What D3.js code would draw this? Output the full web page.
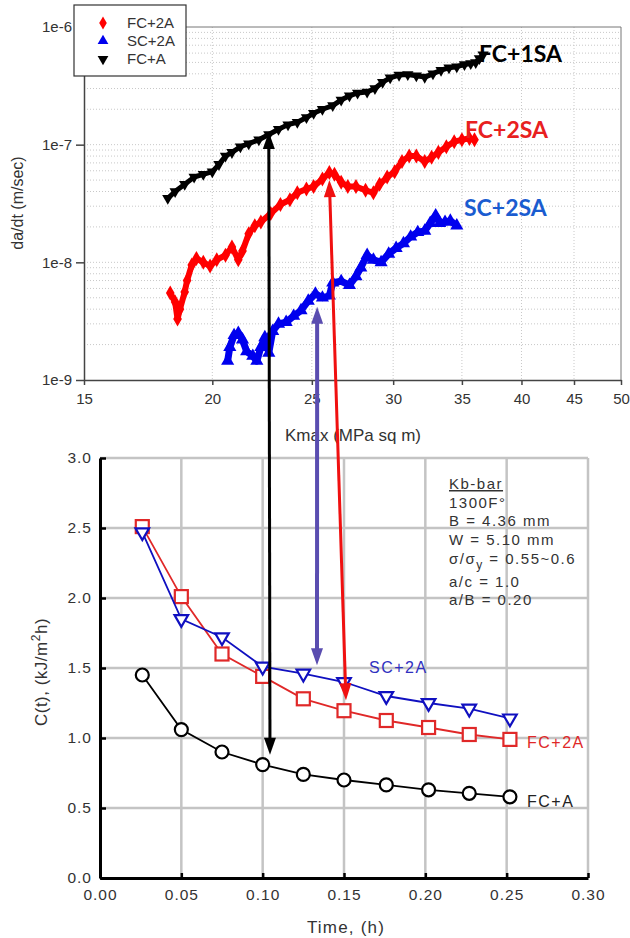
<!DOCTYPE html>
<html>
<head>
<meta charset="utf-8">
<script src="https://cdn.jsdelivr.net/npm/d3@7"></script>
<style>
    body { margin: 0; background: #fff; }
    svg text { font-family: 'Liberation Sans', Arial, sans-serif; }
</style>
</head>
<body>
<div id="container"></div>
<script>
// top chart: da/dt vs Kmax, [K, rate]
const kTicks = [15, 20, 25, 30, 35, 40, 45, 50];
const rateTicks = [1e-9, 1e-8, 1e-7, 1e-6];
const legendNames = ['FC+2A', 'SC+2A', 'FC+A'];

const topFCA = [
    [18.1, 3.5e-8], [18.4, 4.0e-8], [18.8, 4.6e-8], [19.2, 5.3e-8], [19.6, 5.6e-8], [20.0, 5.9e-8],
    [20.3, 6.8e-8], [20.6, 8.0e-8], [20.9, 8.6e-8], [21.3, 9.6e-8], [21.7, 1.02e-7], [22.2, 1.10e-7],
    [22.7, 1.22e-7], [23.2, 1.35e-7], [23.7, 1.48e-7], [24.2, 1.55e-7], [24.7, 1.70e-7], [25.1, 1.85e-7],
    [25.6, 2.0e-7], [26.2, 2.15e-7], [26.7, 2.4e-7], [27.2, 2.6e-7], [27.7, 2.75e-7], [28.3, 2.8e-7],
    [28.8, 3.0e-7], [29.3, 3.4e-7], [29.8, 3.7e-7], [30.4, 3.9e-7], [31.0, 3.95e-7], [31.6, 3.85e-7],
    [32.2, 3.75e-7], [32.8, 4.0e-7], [33.4, 4.3e-7], [34.0, 4.5e-7], [34.6, 4.6e-7], [35.2, 4.8e-7],
    [35.7, 4.9e-7], [36.1, 5.0e-7], [36.4, 5.4e-7], [36.7, 5.8e-7]
];
const topFC2A = [
    [18.2, 5.5e-9], [18.4, 4.6e-9], [18.5, 3.3e-9], [18.6, 4.0e-9], [18.8, 5.6e-9], [18.9, 7.0e-9],
    [19.1, 9.5e-9], [19.3, 1.08e-8], [19.6, 1.0e-8], [19.9, 9.3e-9], [20.2, 1.05e-8], [20.6, 1.15e-8],
    [20.9, 1.35e-8], [21.2, 1.05e-8], [21.4, 1.25e-8], [21.7, 1.75e-8], [22.0, 2.05e-8], [22.3, 2.2e-8],
    [22.8, 2.6e-8], [23.3, 3.1e-8], [23.8, 3.4e-8], [24.2, 3.9e-8], [24.7, 4.2e-8], [25.1, 4.4e-8],
    [25.6, 5.1e-8], [26.0, 5.8e-8], [26.3, 5.6e-8], [26.7, 4.8e-8], [27.1, 4.4e-8], [27.6, 4.4e-8],
    [28.2, 4.1e-8], [28.7, 3.9e-8], [29.1, 4.6e-8], [29.6, 5.3e-8], [30.1, 5.9e-8], [30.6, 7.2e-8],
    [31.1, 8.0e-8], [31.6, 8.0e-8], [32.2, 7.2e-8], [32.7, 7.8e-8], [33.2, 8.6e-8], [33.8, 9.6e-8],
    [34.4, 1.06e-7], [35.0, 1.10e-7], [35.6, 1.13e-7], [36.0, 1.10e-7]
];
const topSC2A = [
    [20.7, 1.45e-9], [20.8, 1.9e-9], [21.0, 2.4e-9], [21.2, 2.5e-9], [21.4, 2.2e-9], [21.6, 1.75e-9],
    [21.9, 1.6e-9], [22.1, 1.45e-9], [22.3, 1.9e-9], [22.5, 2.3e-9], [22.7, 1.7e-9], [22.9, 2.6e-9],
    [23.2, 3.0e-9], [23.6, 3.1e-9], [24.0, 3.5e-9], [24.4, 3.9e-9], [24.8, 4.7e-9], [25.2, 5.4e-9],
    [25.6, 5.0e-9], [26.0, 5.2e-9], [26.2, 6.7e-9], [26.7, 6.9e-9], [27.2, 6.4e-9], [27.6, 7.6e-9],
    [27.9, 9.0e-9], [28.3, 1.15e-8], [28.7, 1.05e-8], [29.2, 1.0e-8], [29.7, 1.18e-8], [30.2, 1.32e-8],
    [30.7, 1.45e-8], [31.2, 1.65e-8], [31.7, 1.8e-8], [32.2, 1.85e-8], [32.6, 2.15e-8], [33.0, 2.5e-8],
    [33.3, 2.15e-8], [33.7, 2.2e-8], [34.1, 2.25e-8], [34.6, 2.05e-8]
];

// bottom chart: C(t) vs time
const timeTicks = [0, 0.05, 0.10, 0.15, 0.20, 0.25, 0.30];
const cTicks = [0, 0.5, 1.0, 1.5, 2.0, 2.5, 3.0];
const times = [0.026, 0.05, 0.075, 0.10, 0.125, 0.15, 0.176, 0.202, 0.227, 0.252];
const cFCA  = [1.45, 1.06, 0.90, 0.81, 0.74, 0.70, 0.665, 0.63, 0.605, 0.58];
const cFC2A = [2.51, 2.01, 1.60, 1.44, 1.28, 1.195, 1.125, 1.075, 1.025, 0.99];
const cSC2A = [2.47, 1.85, 1.72, 1.51, 1.46, 1.40, 1.30, 1.25, 1.21, 1.14];

// arrows linking both charts: top end [K, rate], bottom end [time, C]
const arrowNames   = ['FC+A', 'SC+2A', 'FC+2A'];
const arrowTopK    = [22.7, 25.3, 26.0];
const arrowTopRate = [1.28e-7, 4.2e-9, 5.0e-8];
const arrowBotTime = [0.1045, 0.1334, 0.1512];
const arrowBotC    = [0.88, 1.52, 1.27];

const noteLines = ['1300F°', 'B = 4.36 mm', 'W = 5.10 mm', null, 'a/c = 1.0', 'a/B = 0.20'];

window.onload = function() {
    'use strict';

    const color = {
        fca: '#000000',
        fc2a: '#ff0000',
        sc2a: '#0000ee',
        label2sa: '#e82020',
        labelSc: '#1a5cd0',
        botRed: '#e02828',
        botBlue: '#1010c0',
        purple: '#5a4db0',
        grid: '#c4c4c4',
        dots: '#c8c8c8',
        text: '#333333'
    };

    const svg = d3.select('#container')
        .append('svg')
        .attr('width', 630)
        .attr('height', 938);

    ////// TOP CHART

    const xTop = d3.scaleLog().domain([15, 50]).range([84, 621]);
    const yTop = d3.scaleLog().domain([1e-9, 1e-6]).range([380, 27]);

    const top = svg.append('g');

    // dotted grid
    top.selectAll('.hgrid')
        .data(yTop.ticks().filter(d => d > 1.01e-9 && d < 0.99e-6))
        .enter().append('line')
        .attr('x1', 84).attr('x2', 621)
        .attr('y1', d => yTop(d)).attr('y2', d => yTop(d))
        .attr('stroke', color.dots)
        .attr('stroke-dasharray', '1,2');

    top.selectAll('.vgrid')
        .data(kTicks.slice(1, -1))
        .enter().append('line')
        .attr('x1', d => xTop(d)).attr('x2', d => xTop(d))
        .attr('y1', 27).attr('y2', 380)
        .attr('stroke', color.dots)
        .attr('stroke-dasharray', '1,2');

    // frame
    top.append('line').attr('x1', 84).attr('x2', 621).attr('y1', 27).attr('y2', 27)
        .attr('stroke', '#777');
    top.append('line').attr('x1', 621).attr('x2', 621).attr('y1', 27).attr('y2', 380)
        .attr('stroke', '#777');

    const xAxisTop = top.append('g')
        .attr('transform', 'translate(0,380)')
        .call(d3.axisBottom(xTop).tickValues(kTicks).tickFormat(d3.format('d'))
            .tickSizeInner(5).tickSizeOuter(0).tickPadding(8));
    const yAxisTop = top.append('g')
        .attr('transform', 'translate(84,0)')
        .call(d3.axisLeft(yTop).tickValues(rateTicks)
            .tickFormat(d => '1e' + Math.round(Math.log10(d)))
            .tickSizeInner(8).tickSizeOuter(0).tickPadding(4));
    [xAxisTop, yAxisTop].forEach(a => {
        a.select('.domain').attr('stroke', '#444').attr('stroke-width', 1.5);
        a.selectAll('.tick line').attr('stroke', '#444').attr('stroke-width', 1.5);
        a.selectAll('text').attr('font-size', 15).attr('fill', color.text)
            .style('font-family', "'Liberation Sans', Arial, sans-serif");
    });

    top.append('text')
        .attr('x', 353).attr('y', 441)
        .attr('text-anchor', 'middle')
        .attr('font-size', 17).attr('fill', color.text)
        .text('Kmax (MPa sq m)');

    top.append('text')
        .attr('transform', 'translate(23,203) rotate(-90)')
        .attr('text-anchor', 'middle')
        .attr('font-size', 16).attr('fill', color.text)
        .text('da/dt (m/sec)');

    const lineTop = d3.line().x(d => xTop(d[0])).y(d => yTop(d[1]));

    function drawBand(data, col, shape, rotate, width, size) {
        top.append('path')
            .datum(data)
            .attr('d', lineTop)
            .attr('fill', 'none')
            .attr('stroke', col)
            .attr('stroke-width', width)
            .attr('stroke-linejoin', 'round');
        top.selectAll(null)
            .data(data)
            .enter().append('path')
            .attr('d', d3.symbol().type(shape).size(size))
            .attr('transform', d => 'translate(' + xTop(d[0]) + ',' + yTop(d[1]) + ') rotate(' + rotate + ')')
            .attr('fill', col);
    }

    drawBand(topFCA, color.fca, d3.symbolTriangle, 180, 5, 55);
    drawBand(topFC2A, color.fc2a, d3.symbolDiamond, 0, 6, 65);
    drawBand(topSC2A, color.sc2a, d3.symbolTriangle, 0, 7, 75);

    // series labels
    const bigLabel = (x, y, txt, col) => top.append('text')
        .attr('x', x).attr('y', y)
        .attr('font-size', 23).attr('font-weight', 'bold')
        .style('font-family', "Lato, 'Open Sans', sans-serif")
        .attr('fill', col)
        .text(txt);
    bigLabel(479, 62, 'FC+1SA', '#000');
    bigLabel(465, 138, 'FC+2SA', color.label2sa);
    bigLabel(464, 216, 'SC+2SA', color.labelSc);

    // legend
    const legend = top.append('g');
    legend.append('rect')
        .attr('x', 74).attr('y', 5).attr('width', 112).attr('height', 71)
        .attr('fill', '#fff').attr('stroke', '#333').attr('stroke-width', 1.2);
    const legendShapes = [
        { shape: d3.symbolDiamond, rot: 0, col: color.fc2a },
        { shape: d3.symbolTriangle, rot: 0, col: color.sc2a },
        { shape: d3.symbolTriangle, rot: 180, col: color.fca }
    ];
    legendNames.forEach((name, i) => {
        const y = 23 + i * 18;
        legend.append('path')
            .attr('d', d3.symbol().type(legendShapes[i].shape).size(50))
            .attr('transform', 'translate(103,' + y + ') rotate(' + legendShapes[i].rot + ')')
            .attr('fill', legendShapes[i].col);
        legend.append('text')
            .attr('x', 127).attr('y', y + 5)
            .attr('font-size', 15).attr('fill', color.text)
            .text(name);
    });

    ////// BOTTOM CHART

    const xBot = d3.scaleLinear().domain([0, 0.3]).range([100, 588]);
    const yBot = d3.scaleLinear().domain([0, 3]).range([878, 458]);

    const bot = svg.append('g');

    bot.selectAll('.bv')
        .data(timeTicks.slice(1))
        .enter().append('line')
        .attr('x1', d => xBot(d)).attr('x2', d => xBot(d))
        .attr('y1', yBot(3)).attr('y2', yBot(0))
        .attr('stroke', color.grid).attr('stroke-width', 2.5);
    bot.selectAll('.bh')
        .data(cTicks.slice(1))
        .enter().append('line')
        .attr('x1', xBot(0)).attr('x2', xBot(0.3))
        .attr('y1', d => yBot(d)).attr('y2', d => yBot(d))
        .attr('stroke', color.grid).attr('stroke-width', 2.5);

    const xAxisBot = bot.append('g')
        .attr('transform', 'translate(0,878)')
        .call(d3.axisBottom(xBot).tickValues(timeTicks).tickFormat(d3.format('.2f'))
            .tickSizeInner(-5).tickSizeOuter(0).tickPadding(11));
    const yAxisBot = bot.append('g')
        .attr('transform', 'translate(100,0)')
        .call(d3.axisLeft(yBot).tickValues(cTicks).tickFormat(d3.format('.1f'))
            .tickSizeInner(-6).tickSizeOuter(0).tickPadding(8));
    [xAxisBot, yAxisBot].forEach(a => {
        a.select('.domain').attr('stroke', '#000').attr('stroke-width', 3);
        a.selectAll('.tick line').attr('stroke', '#000').attr('stroke-width', 2.5);
        a.selectAll('text').attr('font-size', 15.5).attr('fill', color.text)
            .attr('letter-spacing', 1)
            .style('font-family', "'Liberation Sans', Arial, sans-serif");
    });

    bot.append('text')
        .attr('x', 346).attr('y', 933)
        .attr('text-anchor', 'middle')
        .attr('font-size', 17).attr('fill', color.text)
        .attr('letter-spacing', 1.2)
        .text('Time, (h)');

    const yLab = bot.append('text')
        .attr('transform', 'translate(47,672) rotate(-90)')
        .attr('text-anchor', 'middle')
        .attr('font-size', 17).attr('fill', color.text)
        .attr('letter-spacing', 0.5);
    yLab.append('tspan').text('C(t), (kJ/m');
    yLab.append('tspan').attr('font-size', 12).attr('dy', -7).text('2');
    yLab.append('tspan').attr('dy', 7).text('h)');

    const lineBot = d3.line().x(d => xBot(d[0])).y(d => yBot(d[1]));

    function drawSeries(vals, col, lineCol, marker) {
        const data = times.map((t, i) => [t, vals[i]]);
        bot.append('path')
            .datum(data)
            .attr('d', lineBot)
            .attr('fill', 'none')
            .attr('stroke', lineCol)
            .attr('stroke-width', 1.8);
        const g = bot.selectAll(null)
            .data(data)
            .enter();
        if (marker === 'circle') {
            g.append('circle')
                .attr('cx', d => xBot(d[0])).attr('cy', d => yBot(d[1])).attr('r', 6.5)
                .attr('fill', '#fff').attr('stroke', col).attr('stroke-width', 2.2);
        } else if (marker === 'square') {
            g.append('rect')
                .attr('x', d => xBot(d[0]) - 6.5).attr('y', d => yBot(d[1]) - 6.5)
                .attr('width', 13).attr('height', 13)
                .attr('fill', '#fff').attr('stroke', col).attr('stroke-width', 2.2);
        } else {
            g.append('path')
                .attr('d', d3.symbol().type(d3.symbolTriangle).size(80))
                .attr('transform', d => 'translate(' + xBot(d[0]) + ',' + yBot(d[1]) + ') rotate(180)')
                .attr('fill', '#fff').attr('stroke', col).attr('stroke-width', 2.2);
        }
    }

    drawSeries(cFCA, '#000', '#000', 'circle');
    drawSeries(cFC2A, color.botRed, color.botRed, 'square');
    drawSeries(cSC2A, color.botBlue, color.botBlue, 'triangle');

    const seriesLabel = (x, y, txt, col) => bot.append('text')
        .attr('x', x).attr('y', y)
        .attr('font-size', 16).attr('fill', col)
        .attr('letter-spacing', 1.5)
        .text(txt);
    seriesLabel(369, 673, 'SC+2A', '#3030c0');
    seriesLabel(527, 748, 'FC+2A', color.botRed);
    seriesLabel(527, 807, 'FC+A', '#222');

    // note block
    const note = bot.append('g').attr('fill', color.text).attr('font-size', 15).attr('letter-spacing', 1.5);
    note.append('text').attr('x', 449).attr('y', 489)
        .attr('text-decoration', 'underline').text('Kb-bar');
    const noteY = [508, 526, 545, 564, 587, 605];
    noteLines.forEach((line, i) => {
        const t = note.append('text').attr('x', 449).attr('y', noteY[i]);
        if (line === null) {
            t.append('tspan').text('σ/σ');
            t.append('tspan').attr('font-size', 12).attr('dy', 5).text('y');
            t.append('tspan').attr('dy', -5).text(' = 0.55~0.6');
        } else {
            t.text(line);
        }
    });

    ////// ARROWS

    function head(tip, ux, uy, col) {
        const hl = 17, hw = 6;
        const bx = tip[0] - ux * hl, by = tip[1] - uy * hl;
        const nx = -uy, ny = ux;
        svg.append('polygon')
            .attr('points', [
                [tip[0], tip[1]],
                [bx + nx * hw, by + ny * hw],
                [bx - nx * hw, by - ny * hw]
            ].map(p => p.join(',')).join(' '))
            .attr('fill', col);
    }

    function drawArrow(a, b, col, width) {
        const dx = b[0] - a[0], dy = b[1] - a[1];
        const len = Math.hypot(dx, dy);
        const ux = dx / len, uy = dy / len;
        svg.append('line')
            .attr('x1', a[0] + ux * 12).attr('y1', a[1] + uy * 12)
            .attr('x2', b[0] - ux * 12).attr('y2', b[1] - uy * 12)
            .attr('stroke', col).attr('stroke-width', width);
        head(a, -ux, -uy, col);
        head(b, ux, uy, col);
    }

    const arrowColors = [color.fca, color.purple, '#f01010'];
    const arrowWidths = [3, 4, 3];
    arrowNames.forEach((n, i) => {
        drawArrow(
            [xTop(arrowTopK[i]), yTop(arrowTopRate[i])],
            [xBot(arrowBotTime[i]), yBot(arrowBotC[i])],
            arrowColors[i], arrowWidths[i]);
    });
};
</script>
</body>
</html>
